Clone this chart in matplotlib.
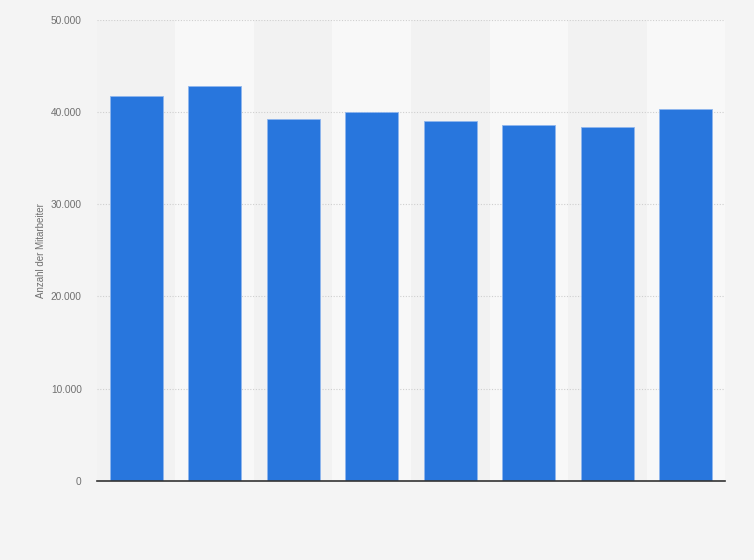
import matplotlib
matplotlib.use('Agg')
import matplotlib.pyplot as plt
from matplotlib.ticker import FuncFormatter

# Values (x labels are not shown in the picture)
categories = ['1', '2', '3', '4', '5', '6', '7', '8']
employees = [41720, 42800, 39230, 40030, 38980, 38580, 38330, 40280]
y_ticks = [0, 10000, 20000, 30000, 40000, 50000]

BG = '#f4f4f4'
BAR = '#2876dd'


def thousands(v, _pos):
    return f'{int(v):,}'.replace(',', '.')


def main() -> None:
    plt.rcParams['font.family'] = ['Liberation Sans', 'DejaVu Sans']
    fig = plt.figure(figsize=(7.54, 5.6), dpi=100, facecolor=BG)
    ax = fig.add_axes([0.1286, 0.141, 0.833, 0.824])
    ax.set_facecolor(BG)

    x = list(range(len(categories)))
    # alternating column bands
    for i in x:
        ax.axvspan(i - 0.5, i + 0.5, color='#f2f2f2' if i % 2 == 0 else '#f8f8f8',
                   zorder=0, lw=0)

    ax.bar(x, employees, width=0.68, color=BAR, edgecolor='#8fb6ee',
           linewidth=0.6, zorder=3)

    ax.set_xlim(-0.5, len(categories) - 0.5)
    ax.set_ylim(0, 50000)
    ax.set_yticks(y_ticks)
    ax.yaxis.set_major_formatter(FuncFormatter(thousands))
    ax.set_xticks([])
    ax.grid(axis='y', color='#cfcfcf', linestyle=(0, (1, 1.5)), linewidth=0.8, zorder=1)

    for side in ['top', 'right', 'left']:
        ax.spines[side].set_visible(False)
    ax.spines['bottom'].set_color('#333333')
    ax.spines['bottom'].set_linewidth(1.2)
    ax.spines['bottom'].set_zorder(4)

    ax.tick_params(axis='y', length=0, pad=11, labelsize=7.3, labelcolor='#707070')
    ax.set_ylabel('Anzahl der Mitarbeiter', fontsize=7, color='#707070')
    ax.yaxis.set_label_coords(-0.081, 0.5)

    fig.savefig('out.png', dpi=100, facecolor=BG)


if __name__ == '__main__':
    main()
